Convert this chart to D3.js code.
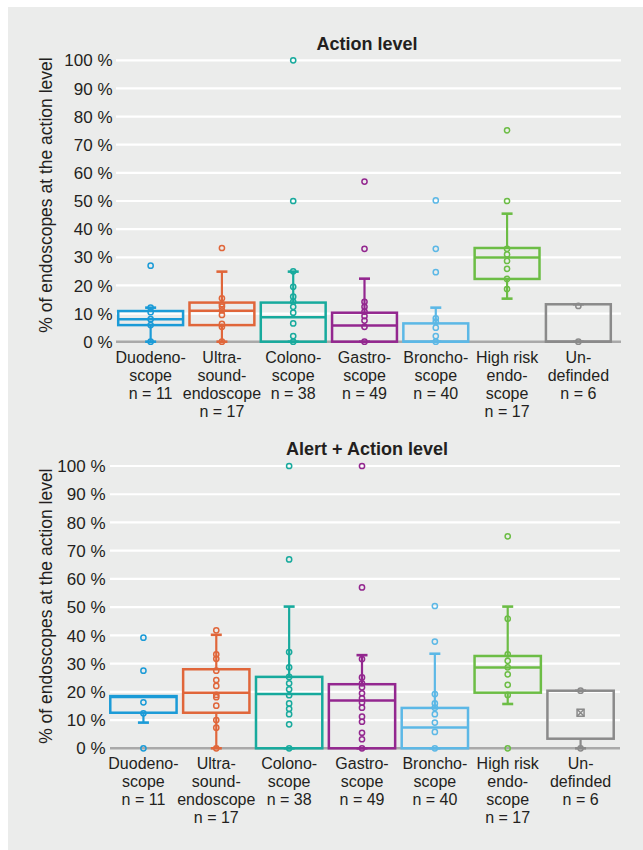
<!DOCTYPE html>
<html>
<head>
<meta charset="utf-8">
<script src="https://cdn.jsdelivr.net/npm/d3@7"></script>
<style>
  body { margin: 0; background: #fff; }
  text { font-family: "Liberation Sans", Arial, sans-serif; fill: #231f20; }
</style>
</head>
<body>
<svg id="chart" width="643" height="850"></svg>
<script>
// categories and their wrapped labels
var categories = ["Duodenoscope", "Ultrasound-endoscope", "Colonoscope", "Gastroscope", "Bronchoscope", "High risk endoscope", "Undefinded"];
var labelLines = [
    ["Duodeno-", "scope", "n = 11"],
    ["Ultra-", "sound-", "endoscope", "n = 17"],
    ["Colono-", "scope", "n = 38"],
    ["Gastro-", "scope", "n = 49"],
    ["Broncho-", "scope", "n = 40"],
    ["High risk", "endo-", "scope", "n = 17"],
    ["Un-", "definded", "n = 6"]
];
var colors = ["#1b9bd7", "#e0663a", "#17aa9d", "#93278f", "#5cb8e6", "#6cbd45", "#8a8a8a"];
var yTicks = [0, 10, 20, 30, 40, 50, 60, 70, 80, 90, 100];

// Action level (%)
var actionQ1 = [5.9, 5.9, 0, 0, 0, 22.3, 0];
var actionMedian = [8.0, 11.0, 8.7, 5.8, 0, 29.9, 0];
var actionQ3 = [10.9, 13.9, 13.9, 10.3, 6.5, 33.3, 13.3];
var actionLow = [0, 0, 0, 0, 0, 15.3, 0];
var actionHigh = [12.1, 24.9, 24.9, 22.4, 12.1, 45.5, 13.3];
var actionMean = [null, null, null, null, null, null, null];
var actionPoints = [
    [0, 5.9, 8.0, 10.5, 12.1, 27.0],
    [0, 5.3, 6.3, 9.5, 11.1, 12.5, 13.3, 15.4, 33.3],
    [0, 2.0, 6.5, 10.3, 12.4, 14.2, 16.0, 19.5, 25.0, 50.0, 100],
    [0, 5.3, 7.5, 9.1, 10.7, 12.4, 14.2, 33.0, 56.9],
    [0, 2.0, 5.0, 7.1, 8.3, 24.7, 33.0, 50.2],
    [18.7, 22.3, 25.9, 28.7, 31.0, 33.0, 50.0, 75.1],
    [0, 12.7]
];

// Alert + Action level (%)
var alertQ1 = [12.6, 12.6, 0, 0, 0, 19.7, 3.4];
var alertMedian = [18.2, 19.7, 19.2, 16.9, 7.4, 28.6, null];
var alertQ3 = [18.5, 28.0, 25.3, 22.7, 14.3, 32.7, 20.4];
var alertLow = [9.1, 0, 0, 0, 0, 15.7, 0];
var alertHigh = [18.3, 40.2, 50.2, 33.0, 33.5, 50.2, 20.4];
var alertMean = [null, null, null, null, null, null, 12.6];
var alertPoints = [
    [0, 12.4, 16.3, 27.5, 39.2],
    [0, 7.3, 10.0, 15.1, 18.1, 18.9, 22.1, 24.2, 27.5, 31.7, 33.3, 41.8],
    [0, 8.5, 12.1, 14.0, 15.9, 18.8, 20.9, 23.0, 25.3, 28.7, 34.1, 66.9, 100],
    [0, 3.2, 5.5, 9.4, 11.2, 14.4, 16.2, 17.7, 19.5, 21.6, 23.0, 25.1, 31.6, 57.0, 100],
    [0, 5.8, 9.1, 12.1, 14.4, 15.9, 19.2, 37.8, 50.4],
    [0, 18.9, 22.5, 26.2, 28.7, 31.0, 33.3, 45.9, 75.1],
    [0, 20.4]
];

var panelColor = "#ebeceb";
var svg = d3.select("#chart");

svg.append("rect")
    .attr("x", 8).attr("y", 7)
    .attr("width", 635).attr("height", 843)
    .attr("fill", panelColor);

function drawPanel(cfg) {
    var g = svg.append("g");

    var x = d3.scaleBand()
        .domain(categories)
        .range(cfg.xRange);

    var y = d3.scaleLinear()
        .domain([0, 100])
        .range(cfg.yRange);

    var boxW = x.bandwidth() * 0.91;
    var capW = 11;

    // gridlines
    g.selectAll(".grid")
        .data(yTicks.filter(function (d) { return d > 0; }))
        .enter().append("line")
        .attr("x1", cfg.gridX[0]).attr("x2", cfg.gridX[1])
        .attr("y1", function (d) { return y(d); })
        .attr("y2", function (d) { return y(d); })
        .attr("stroke", "#fff")
        .attr("stroke-width", 2.2);

    g.append("line")
        .attr("x1", cfg.gridX[0]).attr("x2", cfg.gridX[1])
        .attr("y1", y(0)).attr("y2", y(0))
        .attr("stroke", "#a9a9a9")
        .attr("stroke-width", 2.5);

    // tick labels
    g.selectAll(".tick")
        .data(yTicks)
        .enter().append("text")
        .attr("x", cfg.tickX)
        .attr("y", function (d) { return y(d); })
        .attr("dy", "0.36em")
        .attr("text-anchor", "end")
        .style("font-size", "17px")
        .text(function (d) { return d + " %"; });

    // y axis title
    g.append("text")
        .attr("transform", "translate(" + cfg.labelX + "," + ((cfg.yRange[0] + cfg.yRange[1]) / 2 + cfg.labelShift) + ") rotate(-90)")
        .attr("text-anchor", "middle")
        .attr("dy", "0.35em")
        .style("font-size", "17.5px")
        .text("% of endoscopes at the action level");

    // chart title
    g.append("text")
        .attr("x", 367).attr("y", cfg.titleY)
        .attr("text-anchor", "middle")
        .style("font-size", "18px")
        .style("font-weight", "bold")
        .text(cfg.title);

    categories.forEach(function (c, i) {
        var cx = x(c) + x.bandwidth() / 2;
        var col = colors[i];
        var bg = g.append("g");

        // whiskers
        bg.append("line")
            .attr("x1", cx).attr("x2", cx)
            .attr("y1", y(cfg.q3[i])).attr("y2", y(cfg.high[i]))
            .attr("stroke", col).attr("stroke-width", 2.2);
        bg.append("line")
            .attr("x1", cx).attr("x2", cx)
            .attr("y1", y(cfg.q1[i])).attr("y2", y(cfg.low[i]))
            .attr("stroke", col).attr("stroke-width", 2.2);
        [cfg.high[i], cfg.low[i]].forEach(function (v) {
            bg.append("line")
                .attr("x1", cx - capW / 2).attr("x2", cx + capW / 2)
                .attr("y1", y(v)).attr("y2", y(v))
                .attr("stroke", col).attr("stroke-width", 2.6);
        });

        // box
        bg.append("rect")
            .attr("x", cx - boxW / 2)
            .attr("y", y(cfg.q3[i]))
            .attr("width", boxW)
            .attr("height", y(cfg.q1[i]) - y(cfg.q3[i]))
            .attr("fill", "none")
            .attr("stroke", col)
            .attr("stroke-width", 2.5);

        if (cfg.median[i] !== null) {
            bg.append("line")
                .attr("x1", cx - boxW / 2).attr("x2", cx + boxW / 2)
                .attr("y1", y(cfg.median[i])).attr("y2", y(cfg.median[i]))
                .attr("stroke", col).attr("stroke-width", 2.5);
        }

        if (cfg.mean[i] !== null) {
            var m = y(cfg.mean[i]), s = 3.5;
            bg.append("rect")
                .attr("x", cx - s).attr("y", m - s)
                .attr("width", 2 * s).attr("height", 2 * s)
                .attr("fill", "none").attr("stroke", col).attr("stroke-width", 1.5);
            bg.append("path")
                .attr("d", "M" + (cx - s) + "," + (m - s) + "L" + (cx + s) + "," + (m + s) +
                    "M" + (cx + s) + "," + (m - s) + "L" + (cx - s) + "," + (m + s))
                .attr("stroke", col).attr("stroke-width", 1.5);
        }

        // data points
        bg.selectAll("circle")
            .data(cfg.points[i])
            .enter().append("circle")
            .attr("cx", cx)
            .attr("cy", function (d) { return y(d); })
            .attr("r", 2.6)
            .attr("fill", "none")
            .attr("stroke", col)
            .attr("stroke-width", 1.5);

        // category label
        var t = g.append("text")
            .attr("text-anchor", "middle")
            .style("font-size", "16px");
        labelLines[i].forEach(function (line, k) {
            t.append("tspan")
                .attr("x", cx)
                .attr("y", y(0) + cfg.labelOffset + k * 18)
                .text(line);
        });
    });
}

drawPanel({
    title: "Action level", titleY: 50,
    xRange: [115, 614], yRange: [341.7, 60.3], gridX: [116, 621],
    tickX: 112.5, labelX: 46, labelShift: -6, labelOffset: 21.6,
    q1: actionQ1, median: actionMedian, q3: actionQ3,
    low: actionLow, high: actionHigh, mean: actionMean, points: actionPoints
});

drawPanel({
    title: "Alert + Action level", titleY: 455,
    xRange: [107, 617], yRange: [748.3, 466], gridX: [110, 620],
    tickX: 105.5, labelX: 46, labelShift: -1, labelOffset: 21,
    q1: alertQ1, median: alertMedian, q3: alertQ3,
    low: alertLow, high: alertHigh, mean: alertMean, points: alertPoints
});
</script>
</body>
</html>
